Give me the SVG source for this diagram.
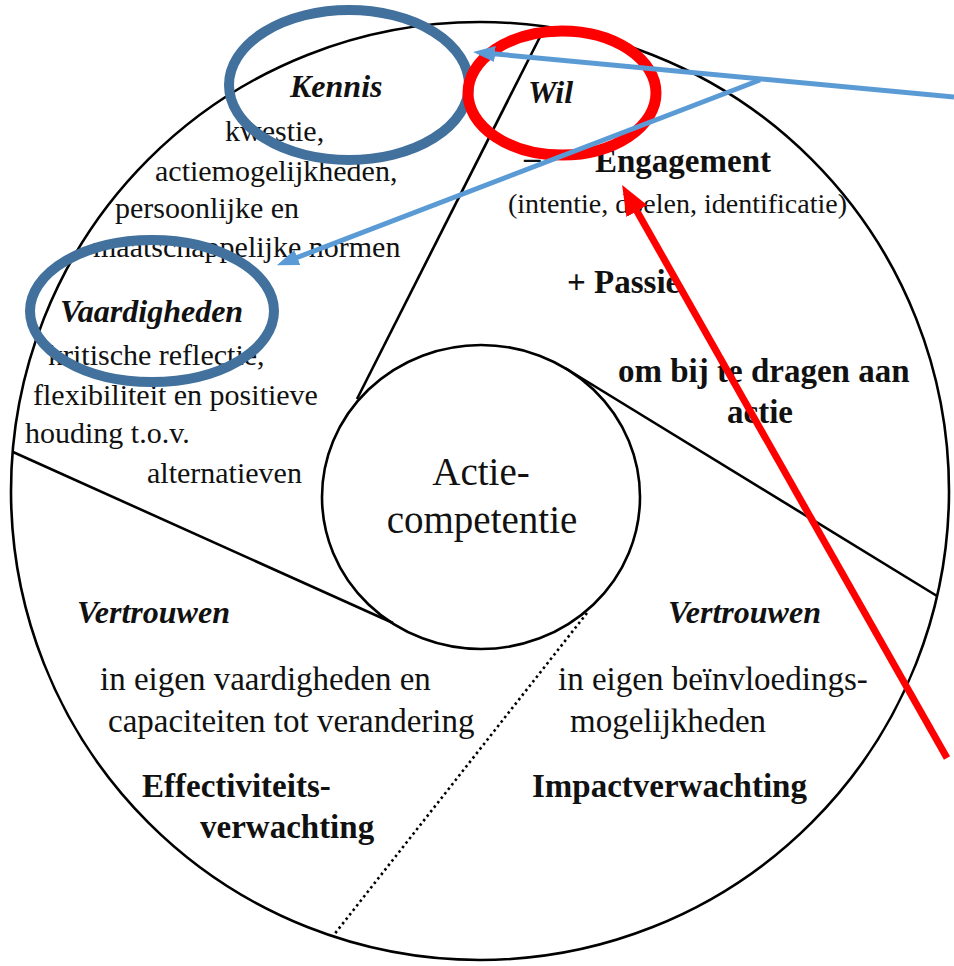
<svg xmlns="http://www.w3.org/2000/svg" width="954" height="966" viewBox="0 0 954 966">
<style>
.ln{fill:none;stroke:#000;stroke-width:2.6}
.t{font-family:"Liberation Serif","Times New Roman",serif;fill:#111}
.r30{font-size:30px}
.r33{font-size:33px}
.b{font-weight:bold;font-size:33px}
.bi{font-weight:bold;font-style:italic;font-size:32px}
.be{fill:none;stroke:#41719C;stroke-width:10}
.re{fill:none;stroke:#FF0000;stroke-width:11}
.ba{fill:none;stroke:#5B9BD5;stroke-width:5}
.ra{fill:none;stroke:#FF0000;stroke-width:7}
</style>
<defs>
<marker id="hb" markerUnits="userSpaceOnUse" markerWidth="24" markerHeight="18" refX="10" refY="8" orient="auto"><path d="M0,0 L22,8 L0,16 z" fill="#5B9BD5"/></marker>
<marker id="hr" markerUnits="userSpaceOnUse" markerWidth="32" markerHeight="26" refX="14" refY="12" orient="auto"><path d="M0,0 L30,12 L0,24 z" fill="#FF0000"/></marker>
</defs>
<rect width="954" height="966" fill="#fff"/>
<g id="outer"><circle cx="480" cy="491" r="469" class="ln" stroke-width="3"/></g>
<g id="dividers">
<line x1="357" y1="399" x2="545" y2="27" class="ln"/>
<line x1="565" y1="368" x2="937" y2="596" class="ln"/>
<line x1="13" y1="452" x2="393" y2="623" class="ln"/>
<line x1="587" y1="613" x2="333" y2="936" class="ln" stroke-width="3" stroke-dasharray="2.5 3.2"/>
</g>
<g id="center"><ellipse cx="481" cy="497" rx="159" ry="152" class="ln" stroke-width="3" fill="#fff"/>
<text class="t" x="481" y="485" font-size="39" text-anchor="middle">Actie-</text>
<text class="t" x="482" y="533" font-size="39" text-anchor="middle">competentie</text></g>
<g id="kennis">
<text class="t bi" x="290" y="97">Kennis</text>
<text class="t r30" x="225" y="141">kwestie,</text>
<text class="t r30" x="155" y="181">actiemogelijkheden,</text>
<text class="t r30" x="115" y="218">persoonlijke en</text>
<text class="t r30" x="93" y="257">maatschappelijke normen</text>
</g>
<g id="vaardigheden">
<text class="t bi" x="60" y="322">Vaardigheden</text>
<text class="t r30" x="48" y="365">kritische reflectie,</text>
<text class="t r30" x="33" y="405">flexibiliteit en positieve</text>
<text class="t r30" x="25" y="443">houding t.o.v.</text>
<text class="t r30" x="147" y="483">alternatieven</text>
</g>
<g id="wil">
<text class="t bi" x="528" y="103">Wil</text>
<text class="t b" x="524" y="169">–</text>
<text class="t b" x="595" y="172">Engagement</text>
<text class="t" font-size="28" x="508" y="213">(intentie, doelen, identificatie)</text>
<text class="t b" x="567" y="293">+ Passie</text>
<text class="t b" x="618" y="382">om bij te dragen aan</text>
<text class="t b" x="727" y="423">actie</text>
</g>
<g id="vertrouwen-links">
<text class="t bi" x="77" y="623">Vertrouwen</text>
<text class="t r33" x="100" y="690">in eigen vaardigheden en</text>
<text class="t r33" x="108" y="732">capaciteiten tot verandering</text>
<text class="t b" x="142" y="797">Effectiviteits-</text>
<text class="t b" x="200" y="838">verwachting</text>
</g>
<g id="vertrouwen-rechts">
<text class="t bi" x="668" y="623">Vertrouwen</text>
<text class="t r33" x="558" y="690">in eigen beïnvloedings-</text>
<text class="t r33" x="570" y="732">mogelijkheden</text>
<text class="t b" x="532" y="797">Impactverwachting</text>
</g>
<g id="highlights">
<ellipse cx="349" cy="85" rx="120" ry="75" class="be"/>
<ellipse cx="152" cy="311" rx="122" ry="71" class="be"/>
<ellipse cx="562" cy="93" rx="94" ry="62" class="re"/>
</g>
<g id="connectors">
<line x1="954" y1="97" x2="485" y2="53" class="ba" marker-end="url(#hb)"/>
<line x1="760" y1="80" x2="288" y2="261" class="ba" marker-end="url(#hb)"/>
<line x1="947" y1="758" x2="630" y2="199" class="ra" marker-end="url(#hr)"/>
</g>
</svg>
